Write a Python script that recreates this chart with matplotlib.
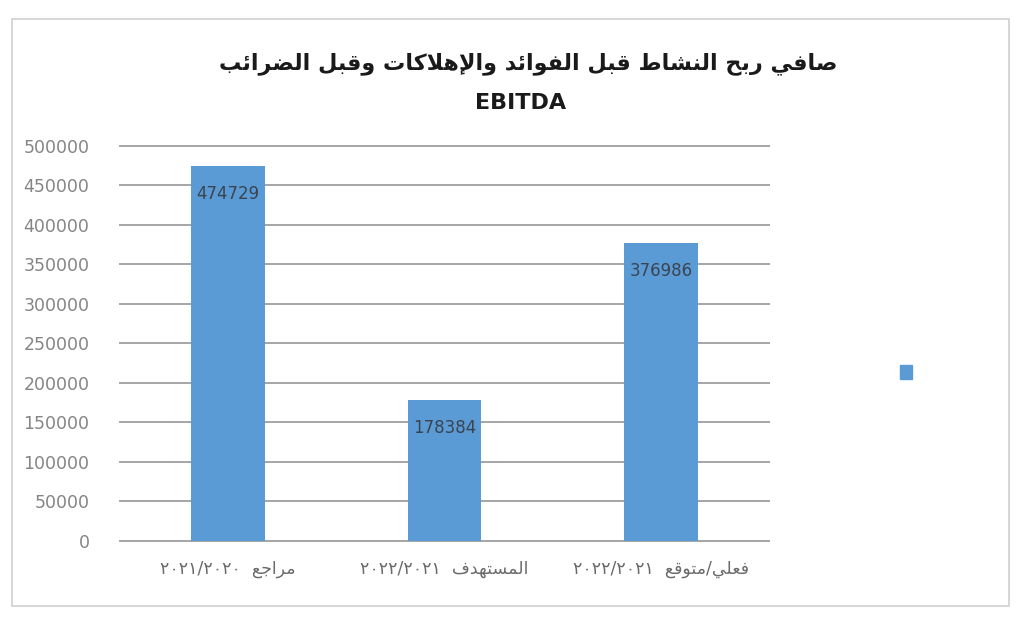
import matplotlib
matplotlib.use("Agg")
import matplotlib.pyplot as plt
from matplotlib.patches import Rectangle, Patch

# data
kinds = ['مراجع', 'المستهدف', 'فعلي/متوقع']
periods = ['٢٠٢١/٢٠٢٠', '٢٠٢٢/٢٠٢١', '٢٠٢٢/٢٠٢١']
ebitda = [474729, 178384, 376986]
title_ar = 'صافي ربح النشاط قبل الفوائد والإهلاكات وقبل الضرائب'
title_en = 'EBITDA'

# minimal arabic shaping (matplotlib has no bidi / shaping)
DUAL = {'ب': 0xFE8F, 'ت': 0xFE95, 'ث': 0xFE99, 'ج': 0xFE9D, 'ح': 0xFEA1,
        'خ': 0xFEA5, 'س': 0xFEB1, 'ش': 0xFEB5, 'ص': 0xFEB9, 'ض': 0xFEBD,
        'ط': 0xFEC1, 'ظ': 0xFEC5, 'ع': 0xFEC9, 'غ': 0xFECD, 'ف': 0xFED1,
        'ق': 0xFED5, 'ك': 0xFED9, 'ل': 0xFEDD, 'م': 0xFEE1, 'ن': 0xFEE5,
        'ه': 0xFEE9, 'ي': 0xFEF1, 'ئ': 0xFE89}
RIGHT = {'ا': 0xFE8D, 'إ': 0xFE87, 'أ': 0xFE83, 'آ': 0xFE81, 'د': 0xFEA9,
         'ذ': 0xFEAB, 'ر': 0xFEAD, 'ز': 0xFEAF, 'و': 0xFEED, 'ة': 0xFE93,
         'ى': 0xFEEF, 'ؤ': 0xFE85}
LAMALEF = {'ا': 0xFEFB, 'إ': 0xFEF9, 'أ': 0xFEF7, 'آ': 0xFEF5}


def ar(text):
    out = []
    i = 0
    n = len(text)
    while i < n:
        c = text[i]
        prev = text[i - 1] if i > 0 else ''
        nxt = text[i + 1] if i + 1 < n else ''
        jp = prev in DUAL and (c in DUAL or c in RIGHT)
        if c == 'ل' and nxt in LAMALEF:
            out.append(chr(LAMALEF[nxt] + (1 if jp else 0)))
            i += 2
            continue
        if c in DUAL:
            b = DUAL[c]
            jn = nxt in DUAL or nxt in RIGHT
            if jp and jn:
                code = b + 3
            elif jp:
                code = b + 1
            elif jn:
                code = b + 2
            else:
                code = b
        elif c in RIGHT:
            code = RIGHT[c] + (1 if jp else 0)
        else:
            code = ord(c)
        out.append(chr(code))
        i += 1
    return ''.join(reversed(out))


labels = [p + '  ' + ar(k) for p, k in zip(periods, kinds)]

fig = plt.figure(figsize=(10.21, 6.18), dpi=100)
ax = fig.add_axes([0.1175, 0.125, 0.636, 0.639])

x = range(len(ebitda))
bars = ax.bar(x, ebitda, width=0.34, color='#5b9bd5', zorder=2)
for b, v in zip(bars, ebitda):
    ax.annotate(str(v), (b.get_x() + b.get_width() / 2, v), xytext=(0, -20),
                textcoords='offset points', ha='center', va='center',
                fontsize=12, color='#3a4450')

ax.set_ylim(0, 500000)
ax.set_xlim(-0.5, 2.5)
ax.set_yticks(range(0, 500001, 50000))
ax.set_xticks(list(x))
ax.set_xticklabels(labels, fontsize=12.5, color='#6a6a6a')
ax.tick_params(axis='y', labelsize=12.5, labelcolor='#858585', length=0, pad=22)
ax.tick_params(axis='x', length=0, pad=14)
ax.grid(axis='y', color='#a5a5a5', linewidth=1.4, zorder=0)
for l in ax.get_ygridlines():
    l.set_clip_on(False)
for s in ax.spines.values():
    s.set_visible(False)

fig.text(0.517, 0.897, ar(title_ar), ha='center', va='center', fontsize=16,
         fontweight='bold', color='#1a1a1a')
fig.text(0.51, 0.833, title_en, ha='center', va='center', fontsize=16,
         fontweight='bold', color='#1a1a1a')

ax.legend(handles=[Patch(color='#5b9bd5')], labels=[' '], frameon=False,
          loc='center', bbox_to_anchor=(0.895, 0.397),
          bbox_transform=fig.transFigure, handlelength=0.9, handleheight=1.1)

# chart area frame
fig.patches.append(Rectangle((0.012, 0.02), 0.976, 0.95, transform=fig.transFigure,
                             fill=False, edgecolor='#d0d0d0', linewidth=1.2))

fig.savefig('out.png', dpi=100)
